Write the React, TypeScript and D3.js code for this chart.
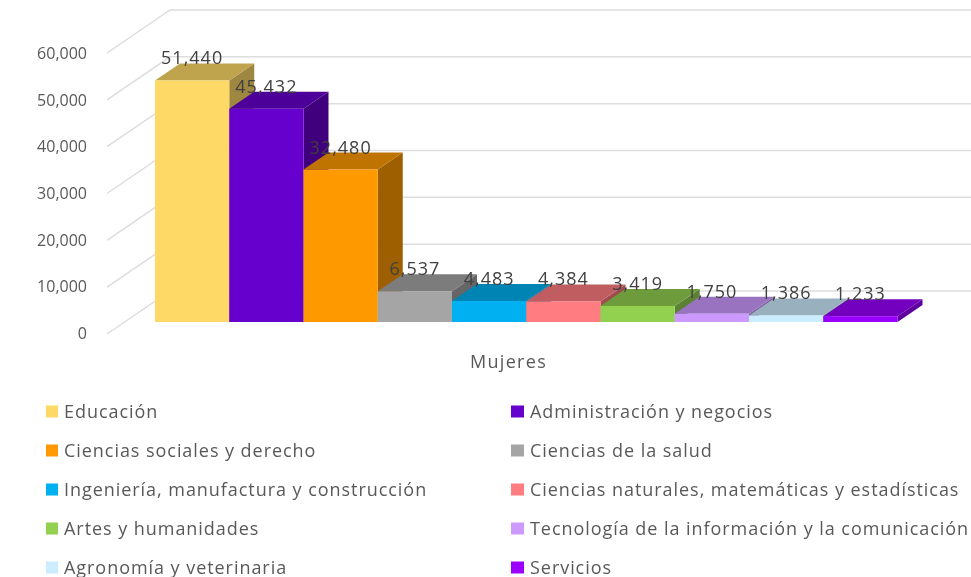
import React from "react";
import * as d3 from "d3";

const categories = ["Educación","Administración y negocios","Ciencias sociales y derecho","Ciencias de la salud","Ingeniería, manufactura y construcción","Ciencias naturales, matemáticas y estadísticas","Artes y humanidades","Tecnología de la información y la comunicación","Agronomía y veterinaria","Servicios"];
const values = [51440,45432,32480,6537,4483,4384,3419,1750,1386,1233];
const colors = ["#FFD966","#6600CC","#FF9900","#A5A5A5","#00B0F0","#FF7C80","#92D050","#CC99FF","#CCECFF","#9900FF"];
const yTicks = [0,10000,20000,30000,40000,50000,60000];
const seriesLabel = "Mujeres";

const W = 971, H = 577;
const FONT = "'Open Sans', sans-serif";
const TEXT = "#595959";
const fmt = d3.format(",");
const shade = (c: string, k: number) => { const r = d3.rgb(c); return d3.rgb(r.r*k, r.g*k, r.b*k).formatHex(); };

const backY = d3.scaleLinear().domain([0,60000]).range([291,10]);
const frontY = d3.scaleLinear().domain([0,60000]).range([322,40.3]);
const tickY = d3.scaleLinear().domain([0,60000]).range([333,53]);
const x = d3.scaleBand<number>().domain(d3.range(categories.length)).range([155,897.5]);
const DX = 25, DY = 17, WALL_DX = 63, WALL_DY = 43, WALL_X = 170;

export default function App() {
  const bw = x.bandwidth();
  const line = d3.line();
  return (
    <svg width={W} height={H} viewBox={`0 0 ${W} ${H}`} style={{position:"absolute",left:0,top:0,background:"#fff"}}>
      <defs><filter id="soft" x="-5%" y="-5%" width="110%" height="110%"><feGaussianBlur stdDeviation="0.55"/></filter></defs>
      <g filter="url(#soft)">
        {yTicks.map(t => (
          <path key={t} fill="none" stroke="#DDDDDD" strokeWidth={1.5}
            d={line([[WALL_X-WALL_DX, backY(t)+WALL_DY],[WALL_X, backY(t)],[W, backY(t)]]) as string}/>
        ))}
        {yTicks.map(t => (
          <text key={t} x={87} y={tickY(t)} textAnchor="end" dominantBaseline="central" fontFamily={FONT} fontSize={16} fill={TEXT}>{fmt(t)}</text>
        ))}
        {values.map((v,i) => {
          const x0 = x(i) as number, x1 = x0+bw, yt = frontY(v), yb = frontY(0);
          const top = line([[x0,yt],[x0+DX,yt-DY],[x1+DX,yt-DY],[x1,yt]])+"Z";
          const side = line([[x1,yt],[x1+DX,yt-DY],[x1+DX,yb-DY],[x1,yb]])+"Z";
          return (
            <g key={i}>
              <path d={side} fill={shade(colors[i],0.62)}/>
              <path d={top} fill={shade(colors[i],0.75)}/>
              <rect x={x0} y={yt} width={bw} height={yb-yt} fill={colors[i]}/>
            </g>
          );
        })}
        {values.map((v,i) => (
          <text key={i} x={(x(i) as number)+bw/2} y={frontY(v)-23} textAnchor="middle" dominantBaseline="central" fontFamily={FONT} fontSize={18} letterSpacing={1} fill="#404040">{fmt(v)}</text>
        ))}
        <text x={508.5} y={361} textAnchor="middle" dominantBaseline="central" fontFamily={FONT} fontSize={18} letterSpacing={1.3} fill={TEXT}>{seriesLabel}</text>
        {categories.map((c,i) => {
          const col = i%2, row = Math.floor(i/2);
          const sx = col ? 511 : 46, tx = col ? 530 : 64, cy = 411.5+row*39;
          return (
            <g key={i}>
              <rect x={sx} y={cy-6} width={col?13:12} height={12} fill={colors[i]}/>
              <text x={tx} y={cy-1} dominantBaseline="central" fontFamily={FONT} fontSize={18} letterSpacing={0.95} fill={TEXT}>{c}</text>
            </g>
          );
        })}
      </g>
    </svg>
  );
}
